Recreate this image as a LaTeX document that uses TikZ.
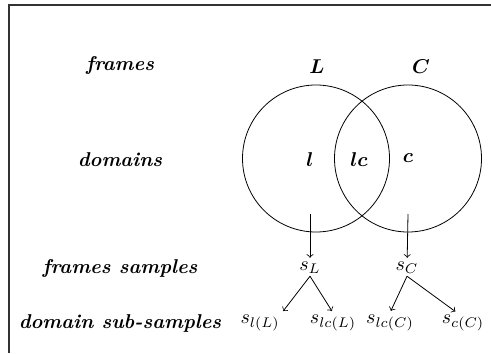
\documentclass[tikz,border=0pt]{standalone}
\usepackage{amsmath,amssymb,bm}
\usetikzlibrary{positioning,arrows}
\tikzset{every picture/.style={line width=0.4pt}}

\begin{document}
\begin{tikzpicture}[x=0.5pt, y=-0.5pt,
    rowlabel/.style={font=\bfseries\itshape},
    framecircle/.style={draw, circle, minimum size=73.5pt, inner sep=0pt},
    sample/.style={inner sep=1pt},
    arr/.style={->, shorten >=1pt}]
    \useasboundingbox (0,0) rectangle (491,353);
    % frame of the figure
    \coordinate (corner) at (9,5);
    \draw[line width=0.6pt, black!80] (corner |- 0,353) -- (corner) -- (491,5);

    % row labels
    \node[rowlabel] (rframes) at (120,65) {frames};
    \node[rowlabel] (rdomains) at (120,160) {domains};
    \node[rowlabel] (rsamples) at (120,268) {frames samples};
    \node[rowlabel] (rsub) at (120,323) {domain sub-samples};

    % two frames as circles
    \node[framecircle] (L) at (316,158.5) {};
    \node[framecircle] (C) at (408,158.5) {};
    \node (lblL) at (317,67) {$\bm{L}$};
    \node (lblC) at (421,67) {$\bm{C}$};
    \node (l) at (310,160) {$\bm{l}$};
    \node (lc) at (359,160) {$\bm{lc}$};
    \node (c) at (408,158) {$\bm{c}$};

    % samples
    \coordinate (outL) at (310,214);
    \coordinate (outC) at (408,214);
    \node[sample] (sL) at (310,268) {$s_L$};
    \node[sample] (sC) at (407,268) {$s_C$};
    \node[sample] (slL) at (260,323) {$s_{l(L)}$};
    \node[sample] (slcL) at (333,323) {$s_{lc(L)}$};
    \node[sample] (slcC) at (390,323) {$s_{lc(C)}$};
    \node[sample] (scC) at (463,323) {$s_{c(C)}$};

    % connections
    \draw[arr] (outL) -- (sL);
    \draw[arr] (outC) -- (sC);
    \draw[arr] (sL.south) -- (slL.north east);
    \draw[arr] (sL.south) -- (slcL.north);
    \draw[arr] (sC.south) -- (slcC.north);
    \draw[arr] (sC.south) -- ([xshift=-3pt]scC.north);
\end{tikzpicture}
\end{document}
